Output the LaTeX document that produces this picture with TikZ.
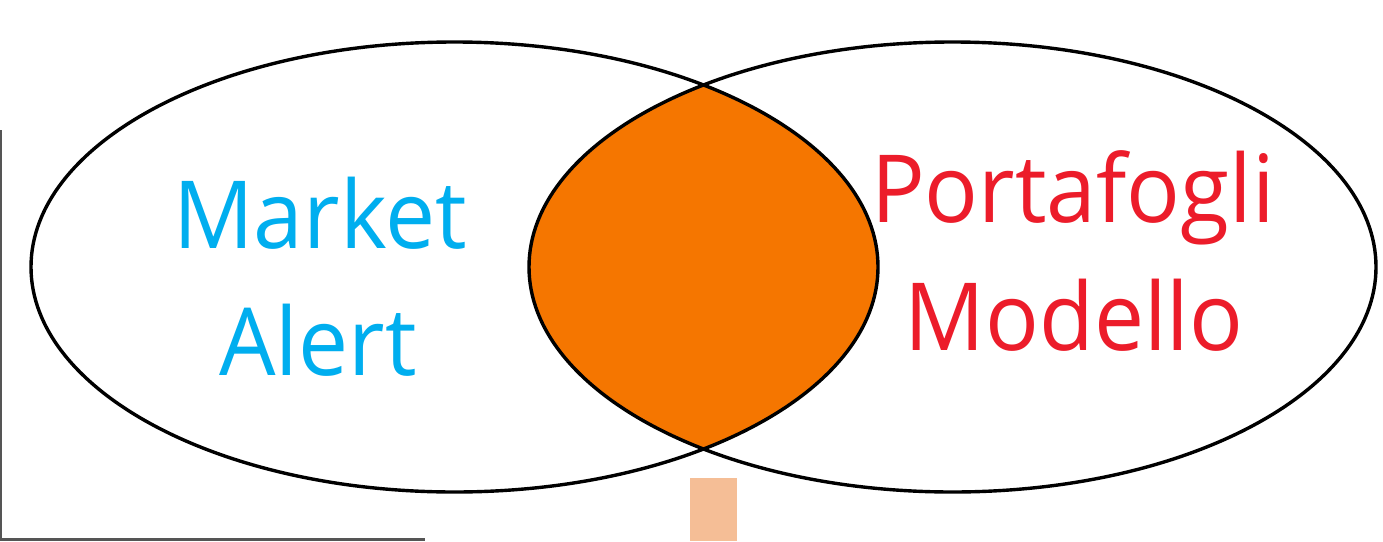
\documentclass[tikz,border=0pt]{standalone}
\usepackage{fontspec}
\setmainfont{Open Sans}
\definecolor{mablue}{HTML}{00AEEF}
\definecolor{pmred}{HTML}{EC1C2A}
\definecolor{lensorange}{HTML}{F57600}
\definecolor{paleorange}{HTML}{F5BE96}
\definecolor{edgegray}{HTML}{555555}
\begin{document}
\begin{tikzpicture}[x=1pt,y=-1pt,
  vennline/.style={draw=black,line width=3.4pt},
  bigtext/.style={font=\fontsize{94}{110}\selectfont\addfontfeature{FakeStretch=0.95},inner sep=0pt,anchor=base}]
\useasboundingbox (0,0) rectangle (1383,541);
\fill[white] (0,0) rectangle (1383,541);
% lens
\begin{scope}
  \clip (454.5,267) ellipse [x radius=423.5, y radius=225];
  \fill[lensorange] (952.5,267) ellipse [x radius=423.5, y radius=225];
\end{scope}
\draw[vennline] (454.5,267) ellipse [x radius=423.5, y radius=225];
\draw[vennline] (952.5,267) ellipse [x radius=423.5, y radius=225];
% texts
\node[bigtext,text=mablue] (m1) at (320,248) {Market};
\node[bigtext,text=mablue] (m2) at (318,375) {Alert};
\node[bigtext,text=pmred] (p1) at (1073,222) {Portafogli};
\node[bigtext,text=pmred] (p2) at (1074,350) {Modello};
% screenshot edges
\fill[edgegray] (0,130) rectangle (2,541);
\fill[edgegray] (0,538) rectangle (425,541);
\fill[paleorange] (690,478) rectangle (737,541);
\end{tikzpicture}
\end{document}
